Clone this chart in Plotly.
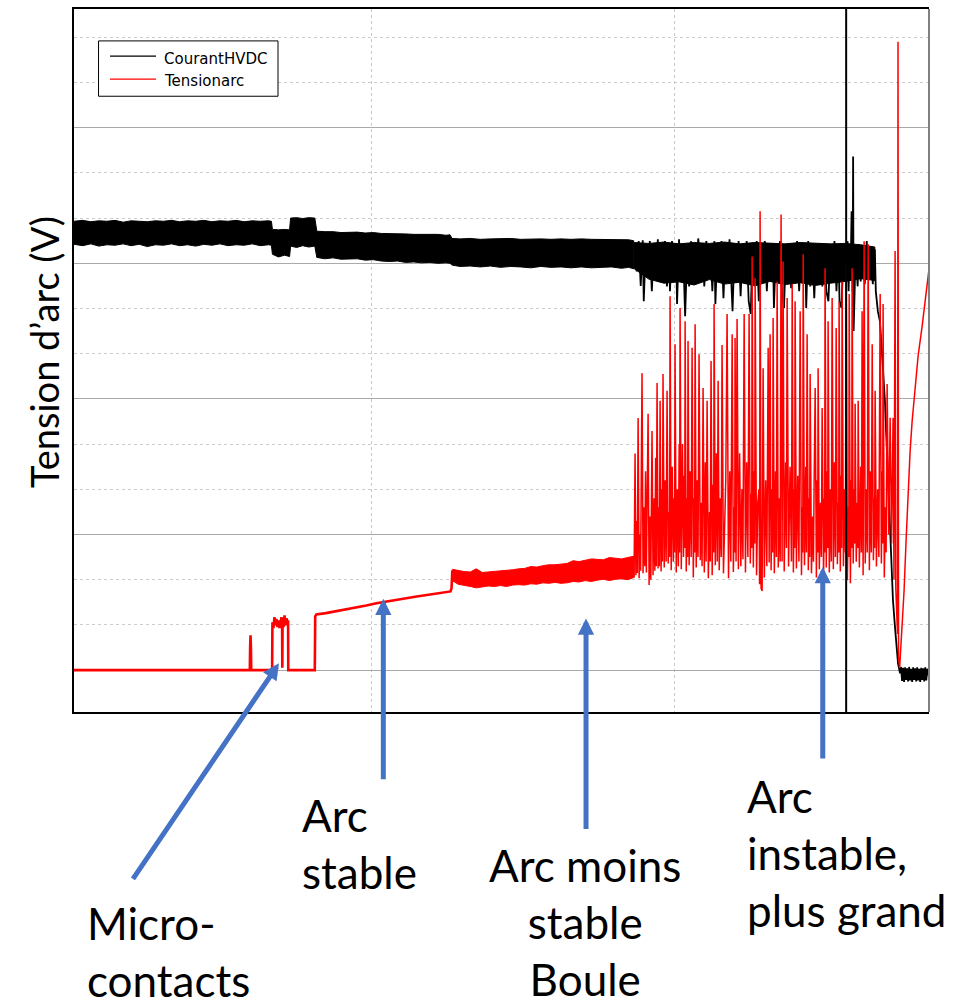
import plotly.graph_objects as go

# ---------------- data (time in µs, voltage in V) ----------------
# CourantHVDC: dense noisy band before the unstable phase (upper / lower envelope)
black_env_t = [5.35, 14, 22, 30, 38, 46, 54, 62, 70, 78, 86, 94, 102, 110, 118, 126, 134, 142, 150, 158,
               166, 174, 182, 190, 198, 201, 202, 208, 214, 219, 220, 226, 232, 238, 244, 246, 254, 262,
               270, 278, 286, 294, 302, 310, 318, 326, 334, 342, 350, 358, 366, 374, 378, 380, 388, 398,
               408, 418, 428, 438, 448, 458, 468, 478, 488, 498, 508, 518, 528, 538, 548, 555, 560]
black_env_top = [99.3, 99.5, 99.2, 99.4, 99.3, 99.5, 99.1, 99.4, 99.3, 99.2, 99.4, 99.3, 99.5, 99.2, 99.4,
                 99.3, 99.5, 99.2, 99.4, 99.3, 99.5, 99.2, 99.4, 99.3, 99.4, 99.3,
                 97.5, 97.4, 97.5, 97.4,
                 100.0, 100.1, 99.9, 100.1, 100.0,
                 97.1, 97.0, 97.0, 96.8, 96.9, 96.9, 96.7, 96.8, 96.6, 96.6, 96.5, 96.5, 96.4, 96.4, 96.3,
                 96.4, 96.2, 96.3,
                 95.5, 95.4, 95.5, 95.3, 95.4, 95.4, 95.5, 95.3, 95.4, 95.4, 95.3, 95.4, 95.3, 95.4, 95.3,
                 95.3, 95.2, 95.3, 95.2, 95.0]
black_env_bot = [94.2, 93.9, 94.3, 93.8, 94.1, 94.0, 94.3, 93.9, 94.2, 93.7, 94.1, 94.0, 94.3, 93.9, 94.1,
                 93.8, 94.2, 94.0, 94.3, 93.9, 94.1, 94.0, 94.3, 93.9, 94.1, 94.0,
                 92.0, 91.4, 91.8, 91.5,
                 93.8, 93.5, 93.9, 93.6, 93.8,
                 91.3, 91.0, 91.2, 90.9, 90.9, 91.0, 90.7, 90.8, 90.5, 90.4, 90.5, 90.2, 90.3, 90.1, 90.2,
                 90.0, 90.1, 90.0,
                 89.6, 89.3, 89.4, 89.2, 89.4, 89.1, 89.3, 89.2, 89.0, 89.3, 89.1, 89.2, 89.0, 89.2, 89.0,
                 89.1, 89.2, 88.9, 89.1, 88.8]

# CourantHVDC: dense core of the unstable phase (upper / lower envelope)
black_core_t = [560, 575, 590, 605, 620, 635, 650, 665, 680, 695, 710, 725, 740, 755, 770, 785, 799]
black_core_top = [94.6, 94.4, 94.7, 94.3, 94.6, 94.4, 94.7, 94.3, 94.6, 94.4, 94.3, 94.6, 94.4, 94.3, 94.4,
                  94.1, 93.6]
black_core_bot = [88.9, 86.5, 85.6, 85.9, 85.2, 86.4, 85.4, 85.8, 85.0, 86.0, 85.3, 85.7, 85.1, 85.6, 86.0,
                  86.6, 86.2]

# CourantHVDC: spikes of the unstable phase, collapse and final level (time µs, value)
black_unstable = [
    (561, 94.4), (563, 88.2), (565, 94.9), (567, 85.0), (569, 95.1), (570, 81.6), (572, 93.8), (574, 87.1),
    (576, 94.9), (578, 83.8), (580, 93.8), (582, 88.2), (584, 95.3), (585, 86.0), (587, 94.2), (589, 87.8),
    (591, 94.9), (593, 84.9), (595, 93.8), (596, 83.8), (598, 94.9), (600, 87.1), (602, 94.4), (603, 81.0),
    (605, 95.3), (607, 86.0), (609, 93.8), (611, 78.3), (613, 92.7), (615, 84.9), (617, 94.9), (618, 86.0),
    (620, 93.8), (622, 88.2), (624, 95.5), (626, 90.4), (628, 94.4), (630, 84.9), (632, 94.9), (634, 87.1),
    (636, 93.5), (638, 83.8), (640, 94.9), (641, 81.0), (643, 93.8), (645, 87.1), (647, 94.9), (649, 82.3),
    (651, 94.0), (653, 86.0), (655, 95.3), (657, 83.8), (658, 79.4), (660, 93.8), (662, 86.0), (664, 94.9),
    (666, 82.7), (668, 93.5), (670, 87.1), (672, 94.9), (674, 81.6), (676, 78.8), (678, 93.8), (680, 86.0),
    (682, 94.9), (684, 81.6), (686, 93.8), (688, 87.1), (690, 94.9), (692, 83.8), (694, 93.8), (696, 86.0),
    (698, 94.4), (699, 80.1), (701, 93.1), (703, 87.1), (705, 94.9), (707, 83.8), (709, 80.1), (711, 93.8),
    (713, 86.0), (715, 94.4), (716, 84.5), (718, 93.8), (720, 88.2), (722, 94.9), (724, 83.8), (726, 93.5),
    (728, 86.0), (730, 93.8), (731, 80.1), (733, 94.9), (735, 84.9), (737, 93.8), (739, 82.3), (741, 94.2),
    (743, 87.6), (745, 94.4), (747, 84.9), (749, 93.5), (751, 83.8), (753, 81.6), (755, 93.8), (757, 86.0),
    (759, 94.9), (761, 83.8), (763, 93.5), (764, 81.6), (766, 80.1), (768, 93.8), (770, 86.0), (772, 94.9),
    (773, 83.8), (774, 92.7), (775, 88.2), (776, 101.5), (777, 83.8), (777.5, 113.6), (778, 75.0),
    (780, 92.7), (782, 84.9), (783, 94.2), (785, 86.0), (787, 93.8), (789, 85.4), (791, 94.9), (793, 86.7),
    (795, 93.8), (797, 85.4), (799, 93.1), (800, 83.8), (802, 79.4), (804, 77.2), (806, 70.6), (809, 59.6),
    (811, 48.5), (813, 37.5), (814, 30.2), (816, 22.7), (817, 15.4), (819, 9.5), (821, 3.3), (822, 1.5),
    (824, -0.7), (825, 0.7), (826, -2.4), (827, 0.5), (828, -2.6), (829, 0.6), (830, -2.2), (831, 0.4),
    (832, -2.5), (833, 0.7), (834, -2.3), (835, 0.3), (836, -2.6), (837, 0.6), (838, -2.2), (839, 0.4),
    (840, -2.5), (841, 0.6), (842, -2.3), (843, 0.3), (844, -2.6), (845, 0.5), (846, -2.2), (847, 0.4),
    (848, -2.5), (849, 0.6), (850, -2.3), (851, 0.3), (853, -1.8)]

# Tensionarc: open contacts, micro-contacts, stable arc
red_base_t = [5.35, 179.6, 179.9, 180.3, 180.7, 181.0, 201.7, 202.0, 203.0, 204.0, 205.0, 206.0, 207.0,
              208.0, 209.0, 210.0, 211.0, 211.6, 211.8, 212.1, 213.0, 214.0, 215.0, 216.0, 217.0, 217.5,
              217.7, 244.0, 244.4, 245.5, 255, 265, 275, 285, 295, 305, 315, 325, 335, 345, 355, 365,
              375, 378.5, 379.5, 380.3]
red_base_v = [0, 0, 5.0, 7.7, 5.0, 0, 0, 10.6, 9.3, 11.7, 9.9, 11.3, 9.5, 11.0, 9.3, 10.8, 11.7, 9.9, 0.5,
              11.0, 9.5, 12.1, 9.9, 11.5, 10.2, 11.0, 0, 0, 11.9, 12.3, 12.6, 13.0, 13.4, 13.8, 14.3, 14.8,
              15.2, 15.6, 16.0, 16.3, 16.6, 16.9, 17.2, 17.4, 18.1, 22.1]

# Tensionarc: less stable arc (noisy band, upper / lower envelope)
red_band_t = [380.3, 386, 392, 398, 404, 410, 416, 422, 428, 434, 440, 446, 452, 458, 464, 470, 476, 482,
              488, 494, 500, 506, 512, 518, 524, 530, 536, 542, 548, 554, 560.4]
red_band_top = [22.3, 22.0, 21.8, 21.7, 22.4, 21.6, 21.7, 21.8, 21.9, 22.0, 22.2, 22.4, 22.5, 22.9, 22.8,
                23.1, 23.3, 23.3, 23.5, 23.6, 24.2, 24.0, 24.3, 24.6, 24.5, 24.4, 24.9, 24.7, 24.6, 24.9, 25.2]
red_band_bot = [19.8, 19.0, 18.7, 18.5, 18.2, 18.4, 18.6, 18.5, 18.7, 18.5, 18.8, 18.9, 18.8, 19.1, 19.0,
                19.3, 19.2, 19.4, 19.2, 19.3, 19.6, 19.5, 19.8, 19.6, 19.9, 20.1, 19.8, 20.1, 20.2, 20.0, 20.5]

# Tensionarc: unstable arc, extinction and recovery (time µs, value)
red_unstable = [
    (560.4, 20.5), (561.4, 47.9), (562.2, 21.0), (563.0, 33.0), (563.6, 21.5), (564.4, 55.8), (565.4, 20.3),
    (566.2, 30.0), (566.9, 22.0), (568.3, 65.7), (569.3, 21.4), (570.3, 36.0), (571.0, 23.0), (571.8, 44.0),
    (572.6, 21.6), (574.3, 56.7), (575.3, 18.8), (576.3, 34.0), (577.0, 20.0), (578.2, 52.9), (579.2, 21.0),
    (580.3, 38.0), (581.0, 22.0), (581.8, 47.0), (582.4, 23.0), (583.2, 63.5), (584.2, 22.5), (585.0, 36.0),
    (585.5, 23.0), (586.2, 59.6), (587.2, 21.8), (588.0, 40.0), (588.5, 24.0), (589.1, 65.5), (590.3, 22.7),
    (591.3, 42.0), (592.2, 24.0), (593.1, 61.8), (594.2, 23.6), (595.2, 35.0), (595.6, 25.0), (596.1, 82.7),
    (597.2, 22.1), (598.2, 45.0), (599.3, 24.0), (600.1, 38.0), (600.5, 26.0), (601.0, 72.1), (602.2, 21.6),
    (603.3, 40.0), (604.3, 23.0), (605.1, 50.0), (605.5, 26.0), (606.0, 80.1), (607.2, 22.3), (608.4, 50.0),
    (609.4, 25.0), (610.2, 43.0), (610.6, 27.0), (611.0, 77.2), (612.1, 21.8), (613.0, 38.0), (613.4, 25.0),
    (613.9, 72.8), (615.0, 23.2), (616.0, 44.0), (617.0, 25.0), (617.9, 71.3), (619.1, 20.5), (620.0, 38.0),
    (620.4, 26.0), (620.9, 76.5), (622.0, 22.7), (623.0, 42.0), (623.8, 25.0), (624.8, 69.9), (626.0, 24.3),
    (627.0, 37.0), (627.8, 23.0), (628.8, 62.4), (630.0, 21.6), (631.0, 46.0), (631.8, 24.0), (632.8, 59.6),
    (634.0, 20.3), (635.2, 35.0), (635.9, 24.0), (636.7, 68.4), (637.8, 21.0), (638.8, 41.0), (639.3, 26.0),
    (639.7, 81.0), (640.9, 23.2), (642.0, 48.0), (642.9, 24.0), (643.7, 64.0), (644.8, 22.1), (645.9, 38.0),
    (646.8, 25.0), (647.6, 71.9), (649.0, 21.4), (650.3, 35.0), (651.3, 42.0), (652.6, 78.8), (654.0, 20.3),
    (655.2, 44.0), (656.3, 24.0), (657.6, 74.3), (658.8, 21.7), (659.8, 36.0), (660.2, 26.0), (660.5, 73.5),
    (661.5, 24.0), (662.5, 77.7), (663.8, 22.3), (665.0, 48.0), (666.2, 23.0), (667.3, 40.0), (668.3, 24.5),
    (669.5, 78.8), (670.8, 21.6), (672.0, 46.0), (673.2, 25.0), (674.4, 78.8), (675.6, 23.6), (676.6, 39.0),
    (677.0, 27.0), (677.4, 91.5), (678.6, 22.7), (679.5, 44.0), (680.0, 28.0), (680.4, 86.7), (681.8, 21.0),
    (683.0, 37.0), (684.2, 40.0), (684.8, 19.0), (685.3, 101.5), (686.3, 18.1), (687.3, 17.5), (688.3, 66.8),
    (689.5, 20.5), (690.8, 42.0), (692.0, 23.0), (693.3, 71.3), (694.3, 23.8), (695.2, 74.3), (696.2, 22.1),
    (697.2, 40.0), (697.7, 26.0), (698.2, 77.9), (699.4, 21.4), (700.6, 44.0), (701.4, 25.0), (702.2, 86.0),
    (703.3, 22.7), (704.4, 38.0), (705.2, 24.0), (706.1, 100.8), (707.1, 24.0), (708.1, 90.4), (709.2, 21.8),
    (710.6, 46.0), (711.4, 27.0), (712.1, 82.3), (713.5, 22.9), (715.0, 45.0), (715.8, 28.0), (716.4, 24.0),
    (717.1, 85.4), (718.3, 21.6), (719.3, 40.0), (719.6, 27.0), (720.0, 81.6), (721.3, 22.5), (722.6, 43.0),
    (723.8, 24.0), (725.0, 79.4), (726.3, 21.0), (727.2, 36.0), (727.6, 26.0), (728.0, 92.0), (729.3, 23.2),
    (730.6, 45.0), (731.2, 26.0), (731.9, 74.3), (733.1, 22.1), (734.0, 38.0), (734.4, 25.0), (734.9, 65.5),
    (736.2, 21.4), (737.4, 34.0), (738.2, 24.0), (738.8, 40.0), (739.9, 62.4), (741.1, 20.5), (742.0, 42.0),
    (742.4, 26.0), (742.8, 66.8), (744.0, 22.3), (745.2, 37.0), (746.0, 25.0), (746.8, 58.0), (748.2, 20.5),
    (749.0, 38.0), (749.3, 26.0), (749.7, 88.9), (750.9, 22.7), (751.8, 44.0), (752.3, 27.0), (752.7, 77.2),
    (753.9, 21.6), (755.0, 40.0), (755.9, 24.0), (756.7, 82.3), (757.9, 22.3), (759.0, 46.0), (759.9, 25.0),
    (760.7, 75.7), (761.9, 23.4), (762.7, 37.0), (763.2, 26.0), (763.6, 81.6), (764.8, 21.8), (765.6, 43.0),
    (766.1, 27.0), (766.6, 86.0), (767.9, 23.0), (769.0, 40.0), (769.8, 26.0), (770.6, 89.8), (771.8, 19.9),
    (772.8, 36.0), (773.2, 25.0), (773.6, 83.2), (774.8, 19.2), (775.8, 42.0), (776.1, 27.0), (776.5, 88.9),
    (777.6, 23.6), (778.6, 40.0), (779.0, 28.0), (779.5, 58.9), (780.6, 24.0), (781.7, 37.0), (782.1, 27.0),
    (782.5, 59.6), (783.7, 22.7), (785.0, 45.0), (785.7, 26.0), (786.4, 79.4), (787.4, 21.0), (788.4, 94.9),
    (789.5, 23.6), (790.6, 40.0), (791.5, 26.0), (792.4, 94.2), (793.6, 22.1), (794.6, 44.0), (795.5, 26.0),
    (796.4, 72.1), (797.6, 24.3), (798.4, 38.0), (798.8, 27.0), (799.3, 61.8), (800.6, 22.9), (801.8, 40.0),
    (803.0, 25.0), (804.3, 83.2), (805.5, 23.6), (806.3, 44.0), (806.8, 28.0), (807.2, 81.0), (808.4, 20.5),
    (809.5, 36.0), (810.2, 26.0), (811.2, 63.3), (812.7, 30.0), (814.2, 55.8), (815.6, 28.0), (817.1, 55.8),
    (818.0, 20.0), (819.1, 92.7), (819.8, 18.0), (820.6, 10.0), (821.5, 8.0), (822.0, 139.0), (822.5, 3.0),
    (823.6, 0.5), (826.1, 8.8), (828.0, 17.6), (830.0, 28.7), (832.0, 39.7), (834.0, 48.5), (836.0, 55.1),
    (838.9, 62.4), (841.9, 69.5), (845.9, 76.1), (848.8, 81.6), (852.8, 88.9)]

cursor_t = 770.6          # vertical cursor line (µs)
series_names = ["CourantHVDC", "Tensionarc"]
series_colors = ["#000000", "#ff0000"]

# ---------------- figure ----------------
fig = go.Figure()

bt, bv = zip(*black_unstable)
rt, rv = zip(*red_unstable)


def band(t, top, bot, color, name):
    return go.Scatter(x=list(t) + list(t)[::-1], y=list(top) + list(bot)[::-1], mode="lines",
                      fill="toself", fillcolor=color, line=dict(color=color, width=1),
                      name=name, showlegend=False, hoverinfo="skip")


fig.add_trace(band(black_env_t, black_env_top, black_env_bot, series_colors[0], series_names[0]))
fig.add_trace(band(black_core_t, black_core_top, black_core_bot, series_colors[0], series_names[0]))
fig.add_trace(go.Scatter(x=list(bt), y=list(bv), mode="lines", name=series_names[0],
                         line=dict(color=series_colors[0], width=1.8), showlegend=False))

fig.add_trace(go.Scatter(x=red_base_t, y=red_base_v, mode="lines", name=series_names[1],
                         line=dict(color=series_colors[1], width=2.6), showlegend=False))
fig.add_trace(band(red_band_t, red_band_top, red_band_bot, series_colors[1], series_names[1]))
fig.add_trace(go.Scatter(x=list(rt), y=list(rv), mode="lines", name=series_names[1],
                         line=dict(color=series_colors[1], width=1.5), showlegend=False))

fig.update_layout(
    width=974, height=1005,
    margin=dict(l=74, r=45, t=7, b=293),
    paper_bgcolor="white", plot_bgcolor="white",
    xaxis=dict(range=[5.35, 852.7], tick0=0, dtick=300, showgrid=True, gridcolor="#c8c8c8",
               griddash="dot", gridwidth=1, showticklabels=False, ticks="", zeroline=False,
               showline=True, linecolor="black", linewidth=1.5, mirror=True),
    yaxis=dict(range=[-9.27, 146.26], tick0=0, dtick=30, showgrid=True, gridcolor="#aaaaaa",
               gridwidth=1, showticklabels=False, ticks="", zeroline=False,
               showline=True, linecolor="black", linewidth=1.5,
               minor=dict(tick0=0, dtick=10, showgrid=True, gridcolor="#cccccc", griddash="dot",
                          gridwidth=1)),
    showlegend=False,
)

shapes = [
    dict(type="line", xref="x", yref="paper", x0=cursor_t, x1=cursor_t, y0=0, y1=1,
         line=dict(color="black", width=2)),
    dict(type="line", xref="paper", yref="paper", x0=1, x1=1, y0=0, y1=1,
         line=dict(color="#808080", width=2)),
    # legend frame and samples
    dict(type="rect", xref="paper", yref="paper", x0=0.0287, x1=0.2386, y0=0.8759, y1=0.9546,
         line=dict(color="black", width=1), fillcolor="white"),
    dict(type="line", xref="paper", yref="paper", x0=0.0421, x1=0.0959, y0=0.9329, y1=0.9329,
         line=dict(color=series_colors[0], width=1.2)),
    dict(type="line", xref="paper", yref="paper", x0=0.0421, x1=0.0959, y0=0.9003, y1=0.9003,
         line=dict(color=series_colors[1], width=1.2)),
]
fig.update_layout(shapes=shapes)

font_main = "Lato"
ann = [
    dict(text=series_names[0], x=0.1029, y=0.9291, xref="paper", yref="paper", showarrow=False,
         xanchor="left", yanchor="middle", font=dict(family="DejaVu Sans", size=15, color="black")),
    dict(text=series_names[1], x=0.1029, y=0.8979, xref="paper", yref="paper", showarrow=False,
         xanchor="left", yanchor="middle", font=dict(family="DejaVu Sans", size=15, color="black")),
    dict(text="Tension d’arc (V)", textangle=-90, x=-0.0351, y=0.512, xref="paper", yref="paper",
         showarrow=False, xanchor="center", yanchor="middle",
         font=dict(family=font_main, size=38, color="black")),
    dict(text="Micro-<br>contacts", x=0.0129, y=-0.3411, xref="paper", yref="paper", showarrow=False,
         xanchor="left", yanchor="middle", align="left", font=dict(family=font_main, size=44, color="black")),
    dict(text="Arc<br>stable", x=0.2643, y=-0.1865, xref="paper", yref="paper", showarrow=False,
         xanchor="left", yanchor="middle", align="left", font=dict(family=font_main, size=44, color="black")),
    dict(text="Arc moins<br>stable<br>Boule", x=0.5977, y=-0.2990, xref="paper", yref="paper",
         showarrow=False, xanchor="center", yanchor="middle", align="center",
         font=dict(family=font_main, size=44, color="black")),
    dict(text="Arc<br>instable,<br>plus grand", x=0.7848, y=-0.2010, xref="paper", yref="paper",
         showarrow=False, xanchor="left", yanchor="middle", align="left",
         font=dict(family=font_main, size=44, color="black")),
]
arrow_style = dict(showarrow=True, arrowhead=2, arrowsize=0.65, arrowwidth=5, arrowcolor="#4472C4",
                   text="", xref="x", yref="y")
ann += [
    dict(x=208.5, y=1.5, ax=-147, ay=217, **arrow_style),
    dict(x=311.9, y=15.8, ax=0, ay=182, **arrow_style),
    dict(x=512.8, y=11.4, ax=0, ay=212, **arrow_style),
    dict(x=747.4, y=22.8, ax=0, ay=193, **arrow_style),
]
fig.update_layout(annotations=ann)

fig.write_html("out.html", config={"displayModeBar": False},
               post_script="document.body.style.margin='0';document.body.style.padding='0';")
